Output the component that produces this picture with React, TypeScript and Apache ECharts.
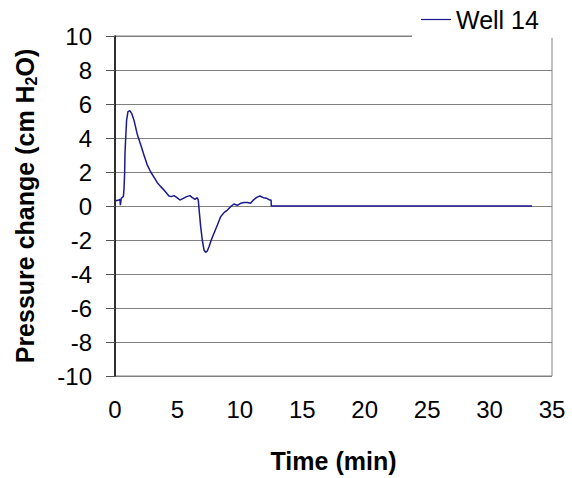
import React, { useEffect, useRef } from "react";
import * as echarts from "echarts";

// Time (min) and pressure change (cm H2O)
const times = [
  0.0, 0.05, 0.3, 0.4, 0.43, 0.5, 0.62, 0.67, 0.72, 0.77, 0.8, 0.85, 0.93, 1.04, 1.2,
  1.33, 1.52, 1.79, 2.06, 2.32, 2.59, 2.86, 3.12, 3.39, 3.66, 3.92, 4.19, 4.32,
  4.51, 4.72, 4.94, 5.2, 5.47, 5.74, 6.0, 6.19, 6.41, 6.59, 6.67, 6.75, 6.86,
  6.99, 7.13, 7.26, 7.39, 7.53, 7.71, 7.93, 8.2, 8.46, 8.73, 9.0, 9.26, 9.53,
  9.8, 10.06, 10.33, 10.6, 10.86, 11.08, 11.35, 11.61, 11.88, 12.15, 12.41,
  12.5, 12.52, 15, 20, 25, 30, 33.4,
];
const pressure = [
  0.3, 0.29, 0.35, 0.38, 0.05, 0.45, 0.53, 0.55, 1.0, 1.9, 3.1, 3.9, 5.05, 5.55, 5.6,
  5.45, 5.05, 4.2, 3.6, 3.0, 2.4, 2.0, 1.7, 1.37, 1.14, 0.94, 0.7, 0.59,
  0.55, 0.61, 0.51, 0.35, 0.45, 0.55, 0.61, 0.49, 0.39, 0.49, 0.35, -0.33, -1.2,
  -2.0, -2.59, -2.73, -2.65, -2.4, -2.0, -1.6, -1.12, -0.63, -0.39, -0.24, -0.04, 0.12,
  0.04, 0.16, 0.2, 0.2, 0.16, 0.35, 0.51, 0.59, 0.49, 0.45, 0.35,
  0.35, 0.0, 0.0, 0.0, 0.0, 0.0, 0.0,
];
const seriesName = "Well 14";
const xTitle = "Time (min)";
const yTitle = "Pressure change (cm H{sub|2}O)";

export default function App() {
  const ref = useRef<HTMLDivElement>(null);
  useEffect(() => {
    if (!ref.current) return;
    const chart = echarts.init(ref.current, null, { renderer: "svg" });
    const font = "'Liberation Sans', Arial, sans-serif";
    const data = times.map((t, i) => [t, pressure[i]]);
    chart.setOption({
      animation: false,
      backgroundColor: "#ffffff",
      textStyle: { fontFamily: font },
      grid: {
        left: 115,
        top: 36,
        right: 20,
        bottom: 102,
        containLabel: false,
        show: true,
        borderColor: "#808080",
        borderWidth: 1,
        backgroundColor: "transparent",
      },
      legend: {
        left: 412,
        top: 0,
        padding: [7, 14, 6, 9],
        backgroundColor: "#ffffff",
        itemWidth: 30,
        itemHeight: 1.2,
        icon: "rect",
        textStyle: { fontFamily: font, fontSize: 25, color: "#000" },
        data: [seriesName],
      },
      xAxis: {
        type: "value",
        min: 0,
        max: 35,
        interval: 5,
        name: xTitle,
        nameLocation: "middle",
        nameGap: 72,
        nameTextStyle: { fontFamily: font, fontSize: 25, fontWeight: "bold", color: "#000" },
        axisLine: { show: false },
        axisTick: { show: false },
        splitLine: { show: false },
        axisLabel: { fontFamily: font, fontSize: 24, color: "#000", margin: 21 },
      },
      yAxis: {
        type: "value",
        min: -10,
        max: 10,
        interval: 2,
        name: yTitle,
        nameLocation: "middle",
        nameGap: 76,
        nameTextStyle: {
          fontFamily: font,
          fontSize: 25,
          fontWeight: "bold",
          color: "#000",
          lineHeight: 28,
          rich: {
            sub: {
              fontFamily: font,
              fontSize: 16,
              fontWeight: "bold",
              color: "#000",
              verticalAlign: "bottom",
              lineHeight: 16,
            },
          },
        },
        axisLine: { show: true, lineStyle: { color: "#000", width: 1.5 } },
        axisTick: { show: true, length: 9, lineStyle: { color: "#555", width: 1 } },
        splitLine: { show: true, lineStyle: { color: "#808080", width: 1 } },
        axisLabel: { fontFamily: font, fontSize: 24, color: "#000", margin: 23 },
      },
      series: [
        {
          name: seriesName,
          type: "line",
          data,
          symbol: "none",
          lineStyle: { color: "#1a1a8c", width: 1.5 },
          itemStyle: { color: "#1a1a8c" },
        },
      ],
    });
    return () => chart.dispose();
  }, []);
  return (
    <div
      ref={ref}
      style={{ position: "fixed", left: 0, top: 0, width: 572, height: 478 }}
    />
  );
}
